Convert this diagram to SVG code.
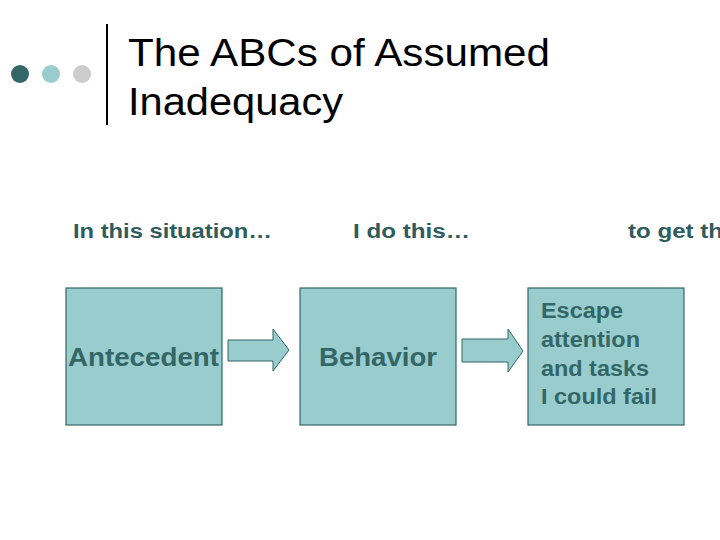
<svg xmlns="http://www.w3.org/2000/svg" width="720" height="540" viewBox="0 0 720 540">
<style>
.title{font-family:"Liberation Sans",Arial,sans-serif;font-size:38px;fill:#000}
.hdr{font-family:"Liberation Sans",Arial,sans-serif;font-size:20px;font-weight:bold;fill:#2F5C5C}
.box{fill:#99CCCC;stroke:#336666;stroke-width:1.2}
.lbl{font-family:"Liberation Sans",Arial,sans-serif;font-size:25px;font-weight:bold;fill:#336666}
.lbl2{font-family:"Liberation Sans",Arial,sans-serif;font-size:21.5px;font-weight:bold;fill:#336666}
.arr{fill:#99CCCC;stroke:#336666;stroke-width:1}
</style>
<rect width="720" height="540" fill="#fff"/>
<g id="header">
<circle cx="20" cy="74" r="9" fill="#336666"/>
<circle cx="51" cy="74" r="9" fill="#99CCCC"/>
<circle cx="82" cy="74" r="9" fill="#CCCCCC"/>
<line x1="107" y1="24" x2="107" y2="125" stroke="#000" stroke-width="2"/>
<text class="title" x="128" y="66" textLength="422" lengthAdjust="spacingAndGlyphs">The ABCs of Assumed</text>
<text class="title" x="128" y="115" textLength="215" lengthAdjust="spacingAndGlyphs">Inadequacy</text>
</g>
<g id="headings">
<text class="hdr" x="73" y="238" textLength="199" lengthAdjust="spacingAndGlyphs">In this situation…</text>
<text class="hdr" x="353" y="238" textLength="117" lengthAdjust="spacingAndGlyphs">I do this…</text>
<text class="hdr" x="628" y="238" textLength="95" lengthAdjust="spacingAndGlyphs">to get th</text>
</g>
<g id="antecedent">
<rect class="box" x="66" y="288" width="156" height="137"/>
<text class="lbl" x="68" y="366" textLength="151" lengthAdjust="spacingAndGlyphs">Antecedent</text>
</g>
<g id="behavior">
<rect class="box" x="300" y="288" width="156" height="137"/>
<text class="lbl" x="319" y="366" textLength="118" lengthAdjust="spacingAndGlyphs">Behavior</text>
</g>
<g id="consequence">
<rect class="box" x="528" y="288" width="156" height="137"/>
<text class="lbl2" x="541" y="318" textLength="82" lengthAdjust="spacingAndGlyphs">Escape</text>
<text class="lbl2" x="541" y="347" textLength="99" lengthAdjust="spacingAndGlyphs">attention</text>
<text class="lbl2" x="541" y="376" textLength="108" lengthAdjust="spacingAndGlyphs">and tasks</text>
<text class="lbl2" x="541" y="404" textLength="116" lengthAdjust="spacingAndGlyphs">I could fail</text>
</g>
<g id="connectors">
<path class="arr" d="M228,340 H273 V329 L289,350 L273,371 V361 H228 Z"/>
<path class="arr" d="M462,339 H508 V329 L523,351 L508,372 V362 H462 Z"/>
</g>
</svg>
